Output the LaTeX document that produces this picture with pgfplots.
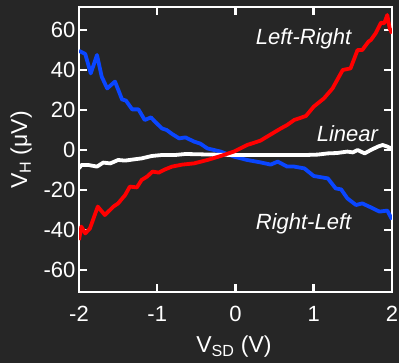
\documentclass[border=0pt]{standalone}
\usepackage{fontspec}
\setmainfont{Liberation Sans}
\usepackage{pgfplots}
\pgfplotsset{compat=1.18}
\definecolor{board}{RGB}{38,38,38}
\definecolor{lblue}{RGB}{10,70,255}
\definecolor{lred}{RGB}{255,0,0}
\begin{document}
\begin{tikzpicture}
\fill[board] (0,0) rectangle (399pt,363pt);
\begin{axis}[
  at={(79pt,71pt)}, anchor=south west,
  scale only axis, width=313pt, height=285pt,
  xmin=-2, xmax=2, ymin=-71, ymax=71.5,
  xtick={-2,-1,0,1,2}, ytick={-60,-40,-20,0,20,40,60},
  tick align=inside, major tick length=8pt,
  axis line style={white, line width=2.5pt},
  every tick/.style={white, line width=2.5pt},
  tick label style={white, font=\fontsize{22}{26}\selectfont},
  /pgf/number format/assume math mode=true,
  xticklabel style={yshift=-11pt},
  xlabel={V\textsubscript{SD} (V)},
  ylabel={V\textsubscript{H} (μV)},
  label style={white, font=\fontsize{23}{27}\selectfont},
  x label style={at={(axis description cs:0.495,-0.214)}, anchor=base},
  y label style={at={(axis description cs:-0.166,0.498)}, anchor=base, rotate=0},
  clip=true,
]
\addplot[lblue, line width=3.8pt, line join=round] coordinates {
(-2.00,49.6) (-1.92,48) (-1.85,38.3) (-1.77,47.5) (-1.71,36.7) (-1.64,30.8) (-1.54,34.2) (-1.45,25.3) (-1.40,24.7) (-1.32,20.3) (-1.24,20.3) (-1.16,15) (-1.08,16.3) (-1.03,14.2) (-0.94,10.8) (-0.88,10) (-0.81,8) (-0.72,5.8) (-0.64,6.3) (-0.53,4.2) (-0.45,3.2) (-0.36,0.8) (-0.19,-0.8) (-0.02,-3.3) (0.15,-5) (0.32,-6.2) (0.45,-7.3) (0.54,-5.8) (0.66,-8.3) (0.75,-8.3) (0.88,-9.2) (1.00,-13) (1.18,-14.2) (1.28,-19.2) (1.35,-19.7) (1.43,-24.2) (1.54,-27.5) (1.62,-26.7) (1.73,-28.7) (1.84,-30.8) (1.94,-30.3) (2.00,-34.7)
};
\addplot[white, line width=3.8pt, line join=round] coordinates {
(-2.00,-9.2) (-1.97,-7.5) (-1.88,-7.5) (-1.77,-8.3) (-1.69,-6.3) (-1.60,-6.7) (-1.50,-5) (-1.41,-5.3) (-1.30,-4.7) (-1.20,-4.2) (-1.07,-3) (-0.94,-2.5) (-0.77,-2.5) (-0.64,-2) (-0.3,-2.3) (0,-2.5) (0.3,-2.5) (0.6,-2.5) (0.9,-2.5) (1.05,-2.3) (1.18,-1.7) (1.30,-1.5) (1.43,-0.8) (1.50,-1.2) (1.56,0) (1.65,-1.7) (1.73,0) (1.82,1.7) (1.88,2.5) (1.94,1.7) (1.99,0.8)
};
\addplot[lred, line width=3.8pt, line join=round] coordinates {
(-2.00,-45) (-1.97,-38.3) (-1.92,-41.7) (-1.86,-39.2) (-1.76,-28.3) (-1.67,-32.5) (-1.56,-28.3) (-1.50,-26.7) (-1.41,-22.5) (-1.35,-18.3) (-1.26,-18.7) (-1.20,-15) (-1.13,-13.3) (-1.06,-10.8) (-0.98,-11.3) (-0.90,-9.7) (-0.81,-8.3) (-0.68,-7.3) (-0.53,-6.7) (-0.36,-5) (-0.19,-3) (-0.02,-0.8) (0.15,2.5) (0.32,4.7) (0.49,8.7) (0.58,10.8) (0.66,12.5) (0.75,15) (0.90,17) (1.00,21.7) (1.13,25.8) (1.24,30.8) (1.37,40) (1.47,40.8) (1.56,50) (1.62,50) (1.70,54.2) (1.73,55) (1.79,58.3) (1.86,63.7) (1.90,63.3) (1.94,67.5) (1.97,60.8) (2.00,58.3)
};
\node[white, anchor=base, font=\itshape\fontsize{22}{26}\selectfont] at (axis cs:0.87,52.5) {Left-Right};
\node[white, anchor=base, font=\itshape\fontsize{22}{26}\selectfont] at (axis cs:1.43,4.2) {Linear};
\node[white, anchor=base, font=\itshape\fontsize{22}{26}\selectfont] at (axis cs:0.87,-40) {Right-Left};
\end{axis}
\pgfresetboundingbox
\path[use as bounding box] (0,0) rectangle (399pt,363pt);
\end{tikzpicture}
\end{document}
